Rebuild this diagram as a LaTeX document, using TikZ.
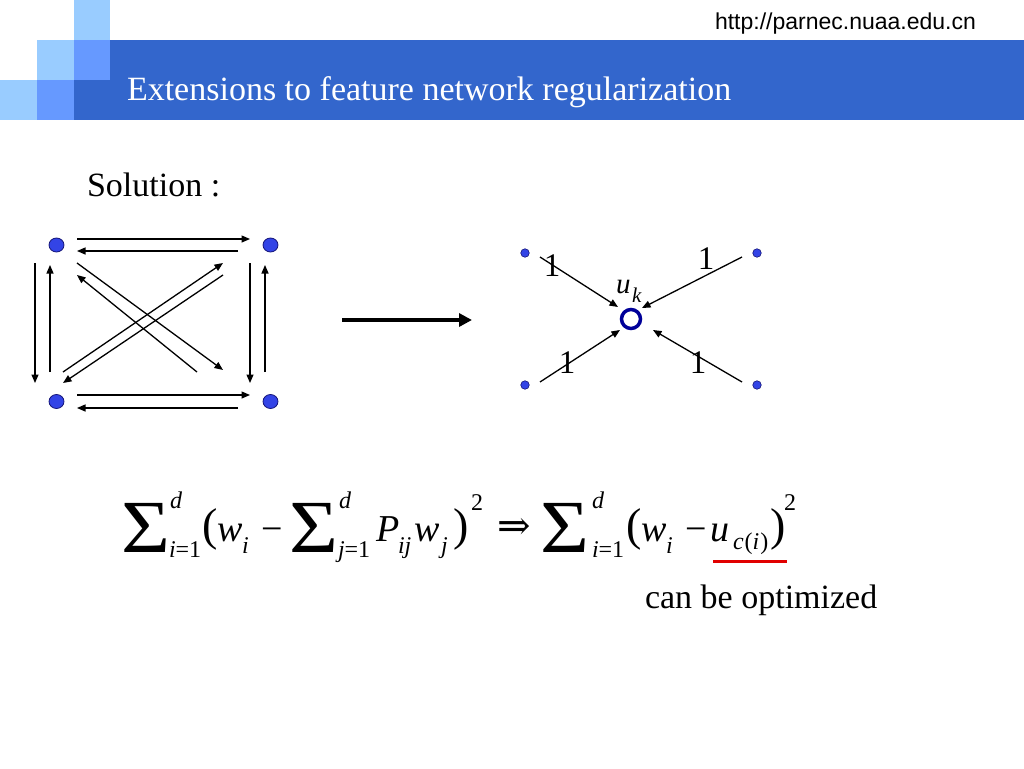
\documentclass[tikz,border=0pt]{standalone}
\usepackage{fontspec}
\setmainfont{Liberation Serif}
\newfontfamily\urlfont{Liberation Sans}
\newfontfamily\symfont{DejaVu Serif}
\usetikzlibrary{arrows.meta}

\definecolor{darkband}{RGB}{51,102,204}
\definecolor{midsq}{RGB}{102,153,255}
\definecolor{lightsq}{RGB}{153,204,255}
\definecolor{dotblue}{RGB}{51,68,230}
\definecolor{dotedge}{RGB}{20,20,120}
\definecolor{ringblue}{RGB}{0,0,153}
\definecolor{ulred}{RGB}{225,0,0}

\newcommand\mysig{\scalebox{1.12}[1]{Σ}}

\tikzset{
  txt/.style={inner sep=0pt, outer sep=0pt, anchor=base west},
  main/.style={txt, font=\fontsize{38}{44}\selectfont},
  paren/.style={txt, font=\fontsize{46}{52}\selectfont},
  mainit/.style={txt, font=\fontsize{38}{44}\selectfont\itshape},
  subit/.style={txt, font=\fontsize{24}{28}\selectfont\itshape},
  subrm/.style={txt, font=\fontsize{24}{28}\selectfont},
  sumsym/.style={txt, font=\fontsize{75}{80}\selectfont},
  bigdot/.style={circle, fill=dotblue, draw=dotedge, line width=0.8pt, minimum size=14pt, inner sep=0pt, xscale=1.07},
  smalldot/.style={circle, fill=dotblue, draw=dotedge, line width=0.6pt, minimum size=8.5pt, inner sep=0pt},
  arr/.style={-{Triangle[length=8.5pt,width=7pt]}, line width=1.3pt, black},
  onelabel/.style={inner sep=0pt, font=\fontsize{33}{40}\selectfont},
}

\begin{document}
\begin{tikzpicture}[x=1pt,y=-1pt]
\useasboundingbox (0,0) rectangle (1024,768);
\fill[white] (0,0) rectangle (1024,768);

% header squares and band
\fill[lightsq] (74,0) rectangle (110,40);
\fill[lightsq] (37,40) rectangle (74,80);
\fill[midsq] (74,40) rectangle (110,80);
\fill[lightsq] (0,80) rectangle (37,120);
\fill[midsq] (37,80) rectangle (74,120);
\fill[darkband] (110,40) rectangle (1024,120);
\fill[darkband] (74,80) rectangle (110,120);

\node[txt, font=\urlfont\fontsize{23}{28}\selectfont] (url) at (715,30) {http://parnec.nuaa.edu.cn};
\node[txt, font=\fontsize{34}{40}\selectfont, text=white] (title) at (127,100) {Extensions to feature network regularization};
\node[txt, font=\fontsize{34}{40}\selectfont] (sol) at (87,196) {Solution :};

% left graph
\node[bigdot] (tl) at (56.5,245) {};
\node[bigdot] (tr) at (270.5,245) {};
\node[bigdot] (bl) at (56.5,401.5) {};
\node[bigdot] (br) at (270.5,401.5) {};

\coordinate (a1s) at (77,239);  \coordinate (a1e) at (250,239);
\coordinate (a2s) at (238,251); \coordinate (a2e) at (77,251);
\coordinate (a3s) at (77,395);  \coordinate (a3e) at (250,395);
\coordinate (a4s) at (238,408); \coordinate (a4e) at (77,408);
\coordinate (a5s) at (35,263);  \coordinate (a5e) at (35,383);
\coordinate (a6s) at (50,372);  \coordinate (a6e) at (50,265);
\coordinate (a7s) at (250,263); \coordinate (a7e) at (250,383);
\coordinate (a8s) at (265,372); \coordinate (a8e) at (265,265);
\coordinate (a9s) at (77,263);  \coordinate (a9e) at (223,370);
\coordinate (a10s) at (197,372); \coordinate (a10e) at (77,275);
\coordinate (a11s) at (63,372); \coordinate (a11e) at (223,263);
\coordinate (a12s) at (223,275); \coordinate (a12e) at (63,383);

\foreach \i in {1,...,12} { \draw[arr] (a\i s) -- (a\i e); }

% big arrow
\coordinate (bas) at (342,320);
\coordinate (bae) at (472,320);
\draw[-{Triangle[length=13pt,width=13pt]}, line width=4.5pt] (bas) -- (bae);

% right graph
\node[smalldot] (p1) at (525,253) {};
\node[smalldot] (p2) at (757,253) {};
\node[smalldot] (p3) at (525,385) {};
\node[smalldot] (p4) at (757,385) {};
\node[circle, draw=ringblue, line width=3.5pt, minimum size=19pt, inner sep=0pt] (c) at (631,319) {};

\coordinate (r1s) at (540,257); \coordinate (r1e) at (618,307);
\coordinate (r2s) at (742,257); \coordinate (r2e) at (642,308);
\coordinate (r3s) at (540,382); \coordinate (r3e) at (620,330);
\coordinate (r4s) at (742,382); \coordinate (r4e) at (653,330);
\foreach \i in {1,...,4} { \draw[arr] (r\i s) -- (r\i e); }

\node[onelabel] (l1) at (552,266) {1};
\node[onelabel] (l2) at (706,259) {1};
\node[onelabel] (l3) at (567,363) {1};
\node[onelabel] (l4) at (698,363) {1};

\node[txt, font=\fontsize{29}{32}\selectfont\itshape] (uk) at (616,293) {u};
\node[txt, font=\fontsize{21}{24}\selectfont\itshape] (ukk) at (632,302) {k};

% equation
\node[sumsym] (s1) at (121,552) {\mysig};
\node[subit] (s1d) at (170,508) {d};
\node[subrm] (s1i) at (169,557) {{\itshape i}=1};
\node[paren] (lp1) at (202,540) {(};
\node[mainit] (w1) at (217,541) {w};
\node[subit] (w1i) at (242,553) {i};
\node[main] (m1) at (261,541) {−};
\node[sumsym] (s2) at (289,552) {\mysig};
\node[subit] (s2d) at (339,508) {d};
\node[subrm] (s2j) at (338,557) {{\itshape j}=1};
\node[mainit] (P) at (376,541) {P};
\node[subit] (Pij) at (398,553) {ij};
\node[mainit] (w2) at (414,541) {w};
\node[subit] (w2j) at (441,553) {j};
\node[paren] (rp1) at (453,540) {)};
\node[subrm] (sq1) at (471,510) {2};
\node[inner sep=0pt, font=\symfont\fontsize{40}{44}\selectfont] (imp) at (514,529) {⇒};
\node[sumsym] (s3) at (540,552) {\mysig};
\node[subit] (s3d) at (592,508) {d};
\node[subrm] (s3i) at (592,557) {{\itshape i}=1};
\node[paren] (lp2) at (626,540) {(};
\node[mainit] (w3) at (641,541) {w};
\node[subit] (w3i) at (666,553) {i};
\node[main] (m2) at (685,541) {−};
\node[mainit] (u) at (710,541) {u};
\node[subrm] (uc) at (733,549) {{\itshape c}\kern1pt({\itshape i}\kern1pt)};
\node[paren] (rp2) at (770,540) {)};
\node[subrm] (sq2) at (784,510) {2};

\coordinate (ul1) at (713,561);
\coordinate (ul2) at (787,561);
\draw[ulred, line width=3pt] (ul1) -- (ul2);

\node[txt, font=\fontsize{34}{40}\selectfont] (opt) at (645,608) {can be optimized};
\end{tikzpicture}
\end{document}
